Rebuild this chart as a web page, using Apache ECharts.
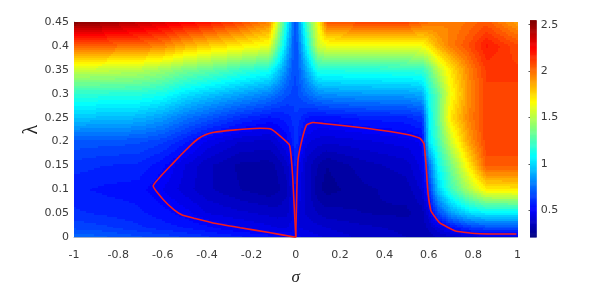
<!DOCTYPE html>
<html><head><meta charset="utf-8">
<style>html,body{margin:0;padding:0;background:#fff}#c{width:599px;height:286px}</style>
<script src="https://cdn.jsdelivr.net/npm/echarts@6/dist/echarts.min.js"></script>
</head><body><div id="c"></div>
<script>
const sigmas = [-1,-0.86,-0.71,-0.6,-0.5,-0.4,-0.25,-0.12,-0.08,-0.04,-0.015,0,0.015,0.05,0.1,0.14,0.3,0.5,0.57,0.6,0.64,0.7,0.78,0.86,1];
const lambdas = [0,0.02,0.05,0.1,0.15,0.2,0.25,0.3,0.35,0.4,0.45];
const z000 = [0.75,0.72,0.68,0.66,0.63,0.6,0.56,0.53,0.52,0.51,0.5,0.5,0.48,0.46,0.44,0.42,0.38,0.35,0.33,0.33,0.35,0.37,0.4,0.42,0.42];
const z002 = [0.66,0.64,0.6,0.57,0.55,0.52,0.47,0.44,0.43,0.43,0.45,0.48,0.43,0.42,0.4,0.39,0.36,0.34,0.33,0.36,0.42,0.52,0.62,0.67,0.67];
const z005 = [0.6,0.58,0.56,0.53,0.49,0.43,0.4,0.38,0.37,0.38,0.42,0.5,0.42,0.38,0.35,0.33,0.31,0.3,0.33,0.42,0.65,0.85,1.0,1.05,1.05];
const z010 = [0.56,0.54,0.53,0.47,0.41,0.36,0.31,0.28,0.3,0.34,0.42,0.52,0.45,0.38,0.28,0.25,0.3,0.33,0.4,0.6,0.95,1.22,1.48,1.7,1.72];
const z015 = [0.61,0.59,0.58,0.52,0.43,0.36,0.3,0.29,0.32,0.37,0.46,0.58,0.47,0.37,0.31,0.27,0.33,0.37,0.45,0.72,1.08,1.35,1.7,2.05,2.05];
const z020 = [0.7,0.69,0.68,0.64,0.56,0.46,0.39,0.38,0.42,0.49,0.55,0.62,0.55,0.44,0.41,0.4,0.42,0.45,0.48,1.03,1.22,1.55,1.88,2.1,2.1];
const z025 = [0.95,0.94,0.92,0.86,0.77,0.7,0.6,0.54,0.55,0.57,0.6,0.63,0.6,0.55,0.52,0.53,0.56,0.58,0.62,1.05,1.3,1.72,1.95,2.1,2.1];
const z030 = [1.19,1.18,1.17,1.13,1.03,0.97,0.88,0.8,0.74,0.68,0.66,0.65,0.68,0.74,0.82,0.84,0.86,0.87,0.9,1.12,1.3,1.65,1.92,2.1,2.1];
const z035 = [1.54,1.53,1.5,1.44,1.36,1.31,1.21,1.13,0.98,0.8,0.7,0.67,0.72,0.9,1.15,1.16,1.17,1.18,1.2,1.3,1.5,1.72,1.95,2.12,2.12];
const z040 = [2.02,2.02,2.0,1.95,1.85,1.78,1.7,1.63,1.3,0.95,0.75,0.66,0.78,1.1,1.55,1.62,1.63,1.63,1.65,1.72,1.85,1.97,2.07,2.2,2.08];
const z045 = [2.54,2.48,2.4,2.33,2.27,2.22,2.1,1.95,1.55,1.1,0.8,0.66,0.85,1.25,1.65,2.05,2.1,2.1,2.03,2.0,1.97,1.95,2.0,2.05,1.88];
const zRows = [z000,z002,z005,z010,z015,z020,z025,z030,z035,z040,z045];
const contourLeft = [[0,0],[-0.12,0.01],[-0.25,0.02],[-0.373,0.03],[-0.46,0.04],[-0.51,0.046],[-0.55,0.058],[-0.598,0.079],[-0.643,0.107],[-0.553,0.155],[-0.47,0.194],[-0.44,0.206],[-0.41,0.214],[-0.374,0.219],[-0.284,0.224],[-0.162,0.228],[-0.11,0.226],[-0.042,0.2],[-0.027,0.191],[-0.014,0.128],[0,0]];
const contourRight = [[0,0],[0.005,0.1],[0.01,0.16],[0.026,0.2],[0.049,0.235],[0.077,0.24],[0.122,0.238],[0.319,0.228],[0.514,0.214],[0.56,0.207],[0.578,0.196],[0.587,0.155],[0.597,0.09],[0.61,0.055],[0.65,0.03],[0.725,0.0125],[0.83,0.0075],[0.995,0.007]];
const xTicks = {min:-1,max:1,interval:0.2};
const yTicks = {min:0,max:0.45,interval:0.05};
const barTicks = [0.5,1,1.5,2,2.5];
const barMin = 0.21, barMax = 2.54, levelStep = 0.04;

function jet(v){
  const t = Math.max(0,Math.min(1,(v-barMin)/(barMax-barMin)));
  const f = c => Math.round(255*Math.max(0,Math.min(1,1.5-Math.abs(4*t-c))));
  return 'rgb('+f(3)+','+f(2)+','+f(1)+')';
}
function quant(v){ return barMin+Math.round((v-barMin)/levelStep)*levelStep; }

const cells = [];
for(let j=0;j<lambdas.length-1;j++){
  for(let i=0;i<sigmas.length-1;i++){
    cells.push([sigmas[i],lambdas[j],sigmas[i+1],lambdas[j+1],zRows[j][i],zRows[j][i+1],zRows[j+1][i],zRows[j+1][i+1]]);
  }
}
const levels = [];
for(let v=barMin;v<barMax;v+=levelStep/4){ levels.push([0,v,1,v+levelStep/4]); }

function renderCell(params,api){
  const p0 = api.coord([api.value(0),api.value(1)]);
  const p1 = api.coord([api.value(2),api.value(3)]);
  const a=api.value(4),b=api.value(5),c=api.value(6),d=api.value(7);
  const x0=Math.round(p0[0]),x1=Math.round(p1[0]),y0=Math.round(p1[1]),y1=Math.round(p0[1]);
  const children=[];
  const step=2;
  for(let y=y0;y<y1;y+=step){
    const h=Math.min(step,y1-y);
    const v=(p0[1]-(y+h/2))/(p0[1]-p1[1]);
    let runStart=x0,runLevel=null;
    for(let x=x0;x<x1;x+=step){
      const w=Math.min(step,x1-x);
      const u=(x+w/2-p0[0])/(p1[0]-p0[0]);
      const lev=quant(a*(1-u)*(1-v)+b*u*(1-v)+c*(1-u)*v+d*u*v);
      if(runLevel===null){runLevel=lev;runStart=x;}
      else if(lev!==runLevel){
        children.push({type:'rect',shape:{x:runStart,y:y,width:x-runStart,height:h},style:{fill:jet(runLevel)},silent:true});
        runStart=x;runLevel=lev;
      }
    }
    if(runLevel!==null) children.push({type:'rect',shape:{x:runStart,y:y,width:x1-runStart,height:h},style:{fill:jet(runLevel)},silent:true});
  }
  return {type:'group',children:children};
}
function renderBar(params,api){
  const p0=api.coord([api.value(0),api.value(1)]);
  const p1=api.coord([api.value(2),api.value(3)]);
  return {type:'rect',shape:{x:p0[0],y:p1[1],width:p1[0]-p0[0],height:p0[1]-p1[1]+0.6},style:{fill:jet(api.value(1))},silent:true};
}

const textColor='#3a3a3a', font='"DejaVu Sans"', edge='#9fb0c8';
const chart=echarts.init(document.getElementById('c'),null,{renderer:'canvas'});
chart.setOption({
  animation:false,
  backgroundColor:'#fff',
  grid:[
    {left:74,top:22,width:443.5,height:215.3,outerBoundsMode:'none',containLabel:false},
    {left:530,top:21,width:6.7,height:216,outerBoundsMode:'none',containLabel:false}
  ],
  xAxis:[
    {type:'value',gridIndex:0,min:xTicks.min,max:xTicks.max,interval:xTicks.interval,
     splitLine:{show:false},axisTick:{show:false},
     axisLine:{show:true,onZero:false,lineStyle:{color:edge,width:1}},
     axisLabel:{color:textColor,fontFamily:font,fontSize:11,margin:12,hideOverlap:false},
     name:'σ',nameLocation:'middle',nameGap:32,nameMoveOverlap:false,
     nameTextStyle:{fontFamily:'"Liberation Serif"',fontStyle:'italic',fontSize:17,color:'#222'}},
    {type:'value',gridIndex:1,min:0,max:1,show:false}
  ],
  yAxis:[
    {type:'value',gridIndex:0,min:yTicks.min,max:yTicks.max,interval:yTicks.interval,
     splitLine:{show:false},axisTick:{show:false},
     axisLine:{show:true,onZero:false,lineStyle:{color:edge,width:1}},
     axisLabel:{color:textColor,fontFamily:font,fontSize:11,margin:5,hideOverlap:false},
     name:'λ',nameLocation:'middle',nameGap:32,nameRotate:90,nameMoveOverlap:false,
     nameTextStyle:{fontFamily:'"Liberation Serif"',fontSize:20,color:'#222'}},
    {type:'value',gridIndex:1,min:barMin,max:barMax,position:'right',
     splitLine:{show:false},
     axisLine:{show:false},
     axisTick:{show:true,inside:true,length:1.5,lineStyle:{color:'#555'},customValues:barTicks},
     axisLabel:{color:textColor,fontFamily:font,fontSize:11,margin:4,customValues:barTicks,
       formatter:v=>String(v),showMinLabel:true,showMaxLabel:true}}
  ],
  series:[
    {type:'custom',name:'field',xAxisIndex:0,yAxisIndex:0,coordinateSystem:'cartesian2d',
     data:cells,encode:{x:[0,2],y:[1,3]},renderItem:renderCell,clip:true,silent:true,z:1},
    {type:'custom',name:'colorbar',xAxisIndex:1,yAxisIndex:1,coordinateSystem:'cartesian2d',
     data:levels,encode:{x:[0,2],y:[1,3]},renderItem:renderBar,silent:true,z:1},
    {type:'line',name:'contour left',xAxisIndex:0,yAxisIndex:0,data:contourLeft,showSymbol:false,smooth:0.12,
     lineStyle:{color:'#f41c1c',width:1.6},clip:false,silent:true,z:5},
    {type:'line',name:'contour right',xAxisIndex:0,yAxisIndex:0,data:contourRight,showSymbol:false,smooth:0.12,
     lineStyle:{color:'#f41c1c',width:1.6},clip:false,silent:true,z:5}
  ]
});
</script></body></html>
